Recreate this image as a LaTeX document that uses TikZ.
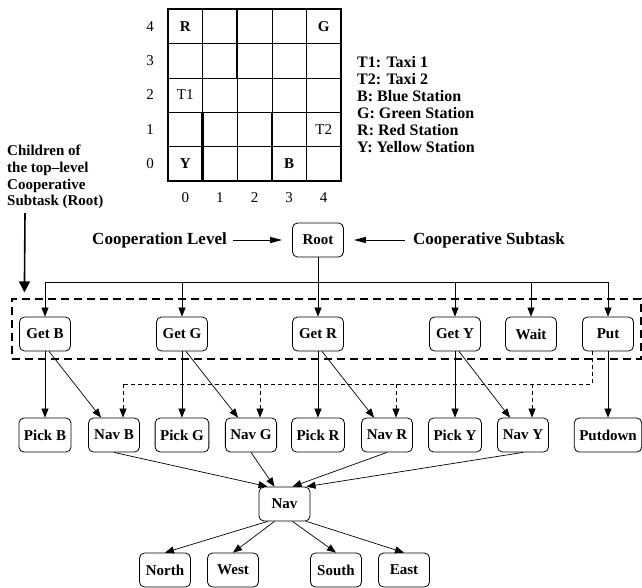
\documentclass[tikz,border=0pt]{standalone}
\usepackage{fontspec}
\setmainfont{Liberation Serif}
\usetikzlibrary{arrows.meta}
\newcommand{\tasklabel}{\fontsize{15}{18}\selectfont\bfseries}
\newcommand{\gridlabel}{\fontsize{15}{18}\selectfont}

\begin{document}
\begin{tikzpicture}[x=1pt,y=-1pt,
  task/.style={draw, rounded corners=5pt, minimum width=51pt, minimum height=34pt, inner sep=5pt, line width=0.8pt, font=\tasklabel},
  link/.style={-{Triangle[length=9pt,width=7pt]}, line width=0.7pt},
  dashlink/.style={link, dash pattern=on 4pt off 3pt},
  note/.style={font=\fontsize{17}{20}\selectfont\bfseries, inner sep=0pt},
  pointer/.style={-{Triangle[length=12pt,width=6pt]}, line width=1pt}]
\useasboundingbox (0,0) rectangle (642,587);

\begin{scope}[shift={(168,9)}, x=34.6pt, y=-34.4pt]
\foreach \i in {1,...,4}
  \draw[line width=0.6pt] (\i,0) -- (\i,5) (0,\i) -- (5,\i);
\draw[line width=1.8pt] (0,0) rectangle (5,5);
\draw[line width=2.4pt] (2,0) -- (2,2) (1,3) -- (1,5) (3,3) -- (3,5);
\foreach \r in {0,...,4}
  \node[font=\gridlabel] (row\r) at (-0.52,4.5-\r) {\r};
\foreach \c in {0,...,4}
  \node[font=\gridlabel] (col\c) at (\c+0.5,5.47) {\c};
\node[font=\tasklabel] (red) at (0.5,0.5) {R};
\node[font=\tasklabel] (green) at (4.5,0.5) {G};
\node[font=\tasklabel] (yellow) at (0.5,4.5) {Y};
\node[font=\tasklabel] (blue) at (3.5,4.5) {B};
\node[font=\gridlabel] (taxi1) at (0.5,2.5) {T1};
\node[font=\gridlabel] (taxi2) at (4.5,3.5) {T2};
\end{scope}

\node[font=\fontsize{16}{17}\selectfont\bfseries, align=left, anchor=west, inner sep=0pt] (legend) at (357,105)
  {T1: Taxi 1\\T2: Taxi 2\\B: Blue Station\\G: Green Station\\R: Red Station\\Y: Yellow Station};
\node[font=\fontsize{15}{16.7}\selectfont\bfseries, align=left, anchor=west, inner sep=0pt] (children) at (7,177)
  {Children of\\the top--level\\Cooperative\\Subtask (Root)};

\node[task] (root) at (318,240) {Root};
\node[note, anchor=east] (colevel) at (227,240) {Cooperation Level};
\node[note, anchor=west] (cosub) at (413,240) {Cooperative Subtask};
\draw[pointer, shorten <=6pt, shorten >=10pt] (colevel) -- (root);
\draw[pointer, shorten <=8pt, shorten >=10pt] (cosub) -- (root);

\node[draw, dash pattern=on 8pt off 5pt, line width=1.2pt, minimum width=629pt, minimum height=60pt, inner sep=0pt] (coopbox) at (326.5,329) {};
\draw[-{Triangle[length=11pt,width=11pt]}, line width=1.6pt] ([xshift=18pt,yshift=-4pt]children.south west) -- ([xshift=13pt,yshift=6pt]coopbox.north west);

\node[task] (getb) at (45,334) {Get B};
\node[task] (getg) at (182,334) {Get G};
\node[task] (getr) at (318,334) {Get R};
\node[task] (gety) at (455,334) {Get Y};
\node[task] (wait) at (531,334) {Wait};
\node[task] (put) at (608,334) {Put};

\node[task] (pickb) at (45,435) {Pick B};
\node[task] (navb) at (114,435) {Nav B};
\node[task] (pickg) at (182,435) {Pick G};
\node[task] (navg) at (251,435) {Nav G};
\node[task] (pickr) at (318,435) {Pick R};
\node[task] (navr) at (387,435) {Nav R};
\node[task] (picky) at (455,435) {Pick Y};
\node[task] (navy) at (523,435) {Nav Y};
\node[task] (putdown) at (608,435) {Putdown};

\node[task] (nav) at (284.5,504) {Nav};
\node[task] (gonorth) at (165,570) {North};
\node[task] (gowest) at (233,570) {West};
\node[task] (gosouth) at (336,570) {South};
\node[task] (goeast) at (404,570) {East};

\coordinate (bus) at (318,282);
\draw[line width=0.7pt] (bus -| getb) -- (bus -| put);
\draw[link] (root) -- (getr);
\foreach \t in {getb,getg,gety,wait,put}
  \draw[link] (bus -| \t) -- (\t);

\coordinate (dashbar) at (123,384);
\draw[line width=0.6pt, dash pattern=on 4pt off 3pt] ([xshift=-16pt]put.south) |- (dashbar);
\foreach \s in {b,g,r,y} {
  \draw[link] (get\s) -- (pick\s);
  \draw[link] ([xshift=4pt]get\s.south) -- ([xshift=-13pt]nav\s.north);
  \draw[dashlink] ([xshift=9pt]dashbar -| nav\s) -- ([xshift=9pt]nav\s.north);
}
\draw[link] (put) -- (putdown);

\foreach \s/\o in {b/-17,g/-10,r/8,y/22}
  \draw[link] (nav\s.south) -- ([xshift=\o pt]nav.north);
\foreach \d/\o in {gonorth/-17,gowest/-10,gosouth/8,goeast/22}
  \draw[link] ([xshift=\o pt]nav.south) -- (\d.north);
\end{tikzpicture}
\end{document}
